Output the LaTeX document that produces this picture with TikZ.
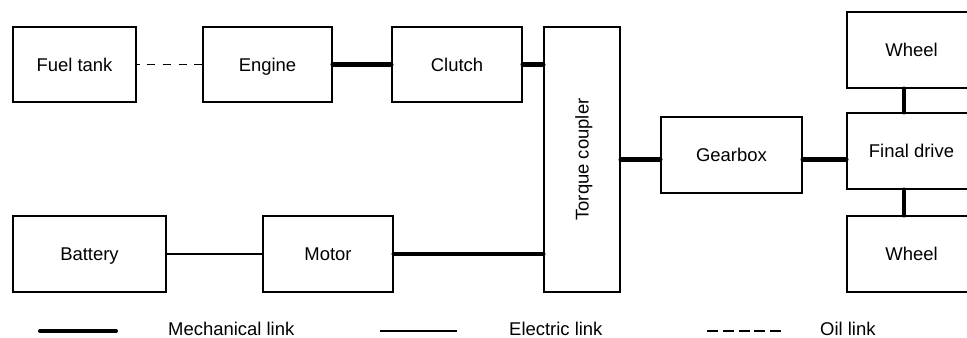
\documentclass[tikz,border=0pt]{standalone}
\usepackage{fontspec}
\setmainfont{Liberation Sans}
\usepackage{graphicx}
\usetikzlibrary{positioning}

\begin{document}
\begin{tikzpicture}[x=0.02cm, y=-0.02cm, every node/.style={font=\fontsize{10.5}{12}\selectfont, align=center},
		part/.style={draw, line width=0.6pt, inner sep=0pt, minimum height=1.52cm},
		box/.style={part, text height=7.6pt, text depth=0pt},
		mech/.style={line width=2.3pt, line cap=round},
		elec/.style={line width=0.6pt},
		oil/.style={line width=0.6pt, dash pattern=on 5.1pt off 4pt, dash phase=3.4pt},
		oilkey/.style={line width=0.6pt, dash pattern=on 6.2pt off 2.8pt}]
		\useasboundingbox (0,0) rectangle (967,338);
		\node[box, minimum width=2.46cm, minimum height=1.5cm] (fuel) at (74.5,64.5) {Fuel tank};
		\node[box, minimum width=2.58cm, minimum height=1.5cm] (engine) at (267.5,64.5) {Engine};
		\node[box, minimum width=2.6cm, minimum height=1.5cm] (clutch) at (457,64.5) {Clutch};
		\node[part, minimum width=1.52cm, minimum height=5.3cm] (coupler) at (582,159.5) {\rotatebox{90}{\raisebox{0pt}[\height][0pt]{Torque coupler}}};
		\node[box, minimum width=2.82cm] (gearbox) at (731.5,155) {Gearbox};
		\node[box, minimum width=2.58cm] (final) at (911.5,151) {Final drive};
		\node[box, minimum width=2.58cm] (wheelA) at (911.5,50) {Wheel};
		\node[box, minimum width=2.58cm] (wheelB) at (911.5,254) {Wheel};
		\node[box, minimum width=3.06cm] (battery) at (89.5,254) {Battery};
		\node[box, minimum width=2.6cm] (motor) at (328,254) {Motor};
		\draw[oil] (fuel) -- (engine);
		\draw[mech] (engine) -- (clutch);
		\draw[mech] (clutch.east) -- (clutch.east -| coupler.west);
		\draw[elec] (battery) -- (motor);
		\draw[mech] (motor.east) -- (motor.east -| coupler.west);
		\draw[mech] (coupler.east) -- (coupler.east -| gearbox.west);
		\draw[mech] (coupler.east -| gearbox.east) -- (coupler.east -| final.west);
		\draw[mech] ([xshift=-0.15cm]wheelA.south) -- ([xshift=-0.15cm]final.north);
		\draw[mech] ([xshift=-0.15cm]final.south) -- ([xshift=-0.15cm]wheelB.north);
		\coordinate (mechA) at (40,331);
		\coordinate (mechB) at (116,331);
		\coordinate (elecA) at (380,331);
		\coordinate (elecB) at (457,331);
		\coordinate (oilA) at (707,331);
		\coordinate (oilB) at (781,331);
		\draw[mech] (mechA) -- (mechB);
		\draw[elec] (elecA) -- (elecB);
		\draw[oilkey] (oilA) -- (oilB);
		\node[anchor=base west] (mechtext) at (162,335) {Mechanical link};
		\node[anchor=base west] (electext) at (503,335) {Electric link};
		\node[anchor=base west] (oiltext) at (814,335) {Oil link};
	\end{tikzpicture}
\end{document}
